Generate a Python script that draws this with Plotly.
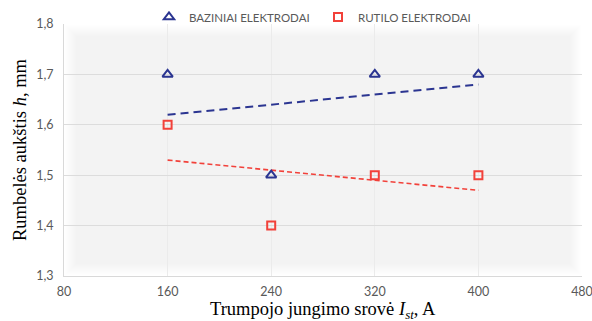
import numpy as np
import plotly.graph_objects as go

# Short-circuit current, A
current = [160, 240, 320, 400]
# Bead height, mm
basic_height = [1.7, 1.5, 1.7, 1.7]
rutile_height = [1.6, 1.4, 1.5, 1.5]

x_ticks = [80, 160, 240, 320, 400, 480]
y_ticks = [1.3, 1.4, 1.5, 1.6, 1.7, 1.8]

x_title = "Trumpojo jungimo srovė <i>I<sub>st</sub></i>, A"
y_title = "Rumbelės aukštis <i>h</i>, mm"

BLUE = "#2b3591"
RED = "#f2413a"

FIG_W, FIG_H = 592, 321
M_L, M_R, M_T, M_B = 64, 10, 24, 45
PLOT_W = FIG_W - M_L - M_R
PLOT_H = FIG_H - M_T - M_B

fig = go.Figure()


def trend(xs, ys):
    k, b = np.polyfit(xs, ys, 1)
    xs = np.array(xs, dtype=float)
    return xs, k * xs + b


tx, ty = trend(current, basic_height)
fig.add_trace(go.Scatter(x=[tx[0], tx[-1]], y=[ty[0], ty[-1]], mode="lines",
                         line=dict(color=BLUE, width=2, dash="8px,5px"),
                         showlegend=False, hoverinfo="skip"))
tx, ty = trend(current, rutile_height)
fig.add_trace(go.Scatter(x=[tx[0], tx[-1]], y=[ty[0], ty[-1]], mode="lines",
                         line=dict(color=RED, width=1.6, dash="5px,3px"),
                         showlegend=False, hoverinfo="skip"))

fig.add_trace(go.Scatter(x=current, y=basic_height, mode="markers",
                         name="BAZINIAI ELEKTRODAI",
                         marker=dict(symbol="triangle-up-open", size=9,
                                     color=BLUE, line=dict(width=2, color=BLUE))))
fig.add_trace(go.Scatter(x=current, y=rutile_height, mode="markers",
                         name="RUTILO ELEKTRODAI",
                         marker=dict(symbol="square-open", size=8,
                                     color=RED, line=dict(width=2, color=RED))))

# Soft-edged grey panel behind the grid
shapes = []
for i in range(12):
    dx, dy = (i + 0.5) / PLOT_W, (i + 0.5) / PLOT_H
    shapes.append(dict(type="rect", xref="paper", yref="paper",
                       x0=dx, x1=1 - dx, y0=dy, y1=1 - dy,
                       fillcolor="rgba(0,0,0,0.0052)", line=dict(width=0),
                       layer="below"))

tick_font = dict(family="Lato, Open Sans, sans-serif", size=12.5, color="#595959")
title_font = dict(family="Liberation Serif, Times New Roman, serif", size=18.5, color="#000000")

# Axis titles placed in the margins
annotations = [
    dict(text=x_title, xref="paper", x=0.5, yref="paper",
         y=(FIG_H - M_B - 310) / PLOT_H,
         xanchor="center", yanchor="middle", showarrow=False, font=title_font),
    dict(text=y_title, xref="paper", x=(20 - M_L) / PLOT_W, yref="paper", y=0.5,
         xanchor="center", yanchor="middle", textangle=-90, showarrow=False,
         font=title_font),
]

fig.update_layout(
    width=FIG_W, height=FIG_H,
    margin=dict(l=M_L, r=M_R, t=M_T, b=M_B, autoexpand=False),
    paper_bgcolor="white", plot_bgcolor="white",
    separators=", ",
    shapes=shapes,
    annotations=annotations,
    showlegend=True,
    legend=dict(orientation="h", xref="container", yref="container",
                x=149 / FIG_W, xanchor="left", y=1 - 17 / FIG_H, yanchor="middle",
                font=dict(family="Lato, Open Sans, sans-serif", size=11.5, color="#595959"),
                itemwidth=30, entrywidth=124, entrywidthmode="pixels",
                tracegroupgap=0, bgcolor="rgba(0,0,0,0)"),
    xaxis=dict(range=[80, 480], tickvals=x_ticks, showgrid=True,
               gridcolor="#ebebeb", gridwidth=1, zeroline=False,
               showline=True, linecolor="#d9d9d9", linewidth=1,
               ticks="", tickfont=tick_font, ticklabelstandoff=4,
               ticklabeloverflow="allow", automargin=False),
    yaxis=dict(range=[1.3, 1.8], tickvals=y_ticks, tickformat=".1f",
               showgrid=True, gridcolor="#dcdcdc", gridwidth=1.3, zeroline=False,
               showline=True, linecolor="#d9d9d9", linewidth=1,
               ticks="", tickfont=tick_font, ticklabelstandoff=7,
               automargin=False),
)

fig.write_html("out.html")
